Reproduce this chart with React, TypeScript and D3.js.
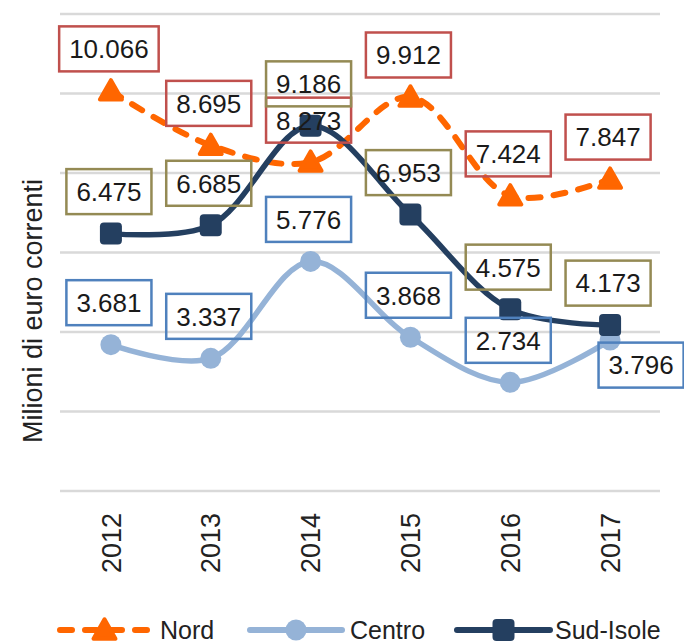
import React from "react";
import * as d3 from "d3";

const years = ["2012", "2013", "2014", "2015", "2016", "2017"];
const nord = [10.066, 8.695, 8.273, 9.912, 7.424, 7.847];
const centro = [3.681, 3.337, 5.776, 3.868, 2.734, 3.796];
const sudIsole = [6.475, 6.685, 9.186, 6.953, 4.575, 4.173];
const yTicks = [0, 2, 4, 6, 8, 10, 12];
const yTitle = "Milioni di euro correnti";

const W = 684;
const H = 644;
const FONT = "'Liberation Sans', Arial, sans-serif";

type Series = {
  name: string;
  values: number[];
  color: string;
  labelColor: string;
  marker: "triangle" | "circle" | "square";
  dash?: string;
};

const series: Series[] = [
  { name: "Nord", values: nord, color: "#FF6600", labelColor: "#C0504D", marker: "triangle", dash: "12 13" },
  { name: "Centro", values: centro, color: "#95B3D7", labelColor: "#4F81BD", marker: "circle" },
  { name: "Sud-Isole", values: sudIsole, color: "#243F60", labelColor: "#948A54", marker: "square" },
];

// per-label placement overrides (relative offsets from default placement)
const labelOverride: Record<string, { dx: number; dy: number }> = {
  "Centro-5": { dx: 33, dy: 67 },
};

const fmt = (v: number) => v.toFixed(3);

function textWidth(s: string, fs: number) {
  let w = 0;
  for (const c of s) w += c === "." ? 0.278 : 0.556;
  return w * fs;
}

function Marker({ kind, x, y, color }: { kind: string; x: number; y: number; color: string }) {
  if (kind === "triangle") {
    const s = 22;
    const h = s * 0.88;
    const p = d3.path();
    p.moveTo(x, y - h / 2 - 1);
    p.lineTo(x + s / 2, y + h / 2 - 1);
    p.lineTo(x - s / 2, y + h / 2 - 1);
    p.closePath();
    return <path d={p.toString()} fill={color} stroke={color} strokeWidth={4} strokeLinejoin="round" />;
  }
  if (kind === "circle") {
    return <circle cx={x} cy={y} r={10.5} fill={color} />;
  }
  return <rect x={x - 11} y={y - 11} width={22} height={22} rx={4} fill={color} />;
}

export default function App() {
  const x = d3.scaleBand<string>().domain(years).range([61, 660]).padding(0);
  const cx = (yr: string) => (x(yr) as number) + x.bandwidth() / 2;
  const y = d3.scaleLinear().domain([0, 12]).range([491, 14]);

  const line = d3
    .line<number>()
    .x((_, i) => cx(years[i]))
    .y((d) => y(d))
    .curve(d3.curveCatmullRom.alpha(0.5));

  const labelFs = 26;
  const boxH = 45;

  const legendItems = [
    { s: series[0], x0: 57, x1: 152, tx: 160 },
    { s: series[1], x0: 250, x1: 342, tx: 350 },
    { s: series[2], x0: 457, x1: 550, tx: 555 },
  ];
  const legendY = 630;

  return (
    <svg
      width={W}
      height={H}
      style={{ position: "absolute", left: 0, top: 0, background: "#fff" }}
      fontFamily={FONT}
    >
      <rect x={0} y={0} width={W} height={H} fill="#fff" />
      {/* gridlines */}
      {yTicks.map((t) => (
        <line key={t} x1={60} x2={660} y1={y(t)} y2={y(t)} stroke="#D9D9D9" strokeWidth={2.5} />
      ))}

      {/* y title */}
      <text
        transform={`translate(33, 311) rotate(-90)`}
        textAnchor="middle"
        dy="0.35em"
        fontSize={27}
        fill="#222"
      >
        {yTitle}
      </text>

      {/* x labels */}
      {years.map((yr) => (
        <text
          key={yr}
          transform={`translate(${cx(yr)}, 513) rotate(-90)`}
          textAnchor="end"
          dy="0.36em"
          fontSize={27}
          fill="#222"
        >
          {yr}
        </text>
      ))}

      {/* lines */}
      {series.map((s) => (
        <path
          key={s.name}
          d={line(s.values) || ""}
          fill="none"
          stroke={s.color}
          strokeWidth={s.dash ? 6 : 5.5}
          strokeDasharray={s.dash}
          strokeLinecap={s.dash ? "round" : "butt"}
          strokeLinejoin="round"
        />
      ))}

      {/* markers */}
      {series.map((s) =>
        s.values.map((v, i) => (
          <Marker key={s.name + i} kind={s.marker} x={cx(years[i])} y={y(v)} color={s.color} />
        ))
      )}

      {/* data labels */}
      {series.map((s) =>
        s.values.map((v, i) => {
          const txt = fmt(v);
          const w = textWidth(txt, labelFs) + 20;
          const o = labelOverride[`${s.name}-${i}`] || { dx: 0, dy: 0 };
          const lx = cx(years[i]) - 2 + o.dx;
          const ly = y(v) - 42 + o.dy;
          return (
            <g key={s.name + "l" + i}>
              <rect
                x={lx - w / 2}
                y={ly - boxH / 2}
                width={w}
                height={boxH}
                fill="none"
                stroke={s.labelColor}
                strokeWidth={2.5}
              />
              <text x={lx} y={ly} dy="0.36em" textAnchor="middle" fontSize={labelFs} fill="#1a1a1a">
                {txt}
              </text>
            </g>
          );
        })
      )}

      {/* legend */}
      {legendItems.map(({ s, x0, x1, tx }) => {
        const mx = (x0 + x1) / 2;
        return (
          <g key={s.name}>
            <line
              x1={x0 + (s.dash ? 3 : 0)}
              x2={x1 - (s.dash ? 3 : 0)}
              y1={legendY}
              y2={legendY}
              stroke={s.color}
              strokeWidth={6}
              strokeDasharray={s.dash ? "12 13" : undefined}
              strokeLinecap="round"
            />
            <Marker kind={s.marker} x={mx} y={legendY} color={s.color} />
            <text x={tx} y={legendY} dy="0.36em" fontSize={25} fill="#222">
              {s.name}
            </text>
          </g>
        );
      })}
    </svg>
  );
}
